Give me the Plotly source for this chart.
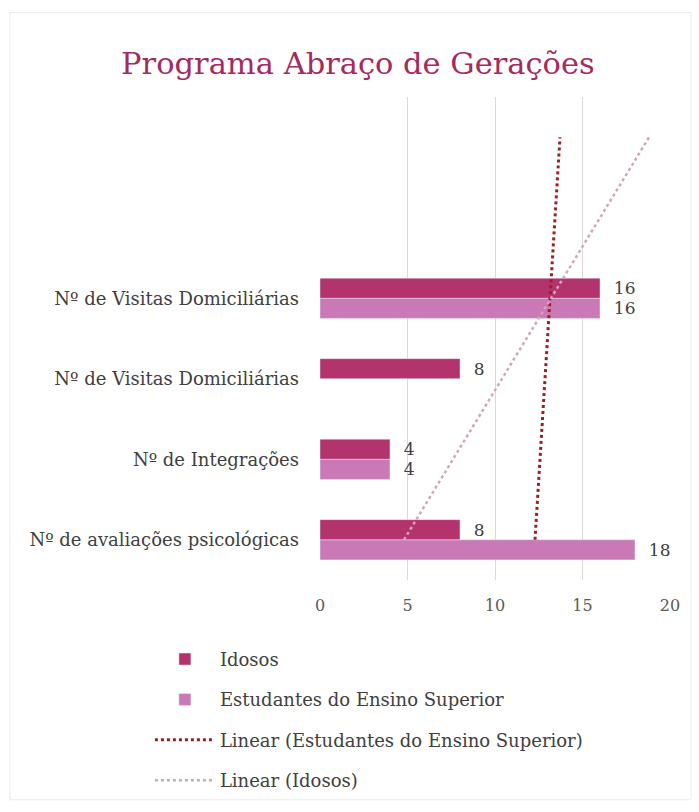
import numpy as np
import plotly.graph_objects as go

# ---- data ----
categories = ["Nº de avaliações psicológicas", "Nº de Integrações",
              "Nº de Visitas Domiciliárias", "Nº de Visitas Domiciliárias"]
cat_pos = [1, 2, 3, 4]  # bottom to top
idosos = [8, 4, 8, 16]
estudantes = [18, 4, None, 16]
x_ticks = [0, 5, 10, 15, 20]
forecast_forward = 2

FONT = "DejaVu Serif"
C_IDOSOS = "#B3336C"
C_EST = "#C979B6"
C_LIN_EST = "#9E1F22"
C_LIN_ID = "#D9A3B6"

def trend(xs, vals):
    pts = [(x, v) for x, v in zip(xs, vals) if v is not None]
    px_ = np.array([p[0] for p in pts], dtype=float)
    pv = np.array([p[1] for p in pts], dtype=float)
    slope, inter = np.polyfit(px_, pv, 1)
    ys = [min(xs), max(xs) + forecast_forward]
    return [slope * y + inter for y in ys], ys

fig = go.Figure()
nb = "\u00a0\u00a0"
fig.add_trace(go.Bar(
    y=cat_pos, x=estudantes, orientation="h", name="Estudantes do Ensino Superior",
    marker=dict(color=C_EST), legendrank=2, legendgroup="b",
    text=[None if v is None else nb + str(v) for v in estudantes],
    textposition="outside", cliponaxis=False,
    textfont=dict(family=FONT, size=17, color="#404040"),
))
fig.add_trace(go.Bar(
    y=cat_pos, x=idosos, orientation="h", name="Idosos",
    marker=dict(color=C_IDOSOS), legendrank=1, legendgroup="a",
    text=[nb + str(v) for v in idosos],
    textposition="outside", cliponaxis=False,
    textfont=dict(family=FONT, size=17, color="#404040"),
))
tx, ty = trend(cat_pos, estudantes)
fig.add_trace(go.Scatter(
    x=tx, y=ty, mode="lines", name="Linear (Estudantes do Ensino Superior)",
    line=dict(color=C_LIN_EST, width=3, dash="dot"), legendrank=3, legendgroup="c",
))
tx2, ty2 = trend(cat_pos, idosos)
fig.add_trace(go.Scatter(
    x=tx2, y=ty2, mode="lines", name="Linear (Idosos)",
    line=dict(color=C_LIN_ID, width=2.5, dash="dot"), legendrank=4, legendgroup="d",
))

fig.update_layout(
    width=699, height=812,
    paper_bgcolor="white", plot_bgcolor="white",
    margin=dict(l=320, r=29, t=97, b=232, autoexpand=False),
    barmode="group", bargap=0.5, bargroupgap=0,
    font=dict(family=FONT, size=16, color="#404040"),
    title=dict(text="Programa Abraço de Gerações", x=0.512, xanchor="center",
               y=0.922, yanchor="middle",
               font=dict(family=FONT, size=30.5, color="#A32B60")),
    legend=dict(x=-0.486, xanchor="left", y=-0.126, yanchor="top",
                orientation="v", traceorder="grouped", tracegroupgap=14,
                font=dict(family=FONT, size=18, color="#404040"),
                itemwidth=60, bgcolor="rgba(0,0,0,0)"),
    showlegend=True,
)
fig.update_xaxes(range=[0, 20], tickvals=x_ticks, showgrid=True, gridcolor="#D9D9D9",
                 gridwidth=1, zeroline=False, showline=False,
                 tickfont=dict(family=FONT, size=16, color="#595959"),
                 ticklabelstandoff=14)
fig.update_yaxes(range=[0.5, 6.5], tickvals=cat_pos, ticktext=categories,
                 showgrid=False, zeroline=False, showline=False,
                 tickfont=dict(family=FONT, size=18, color="#404040"),
                 ticklabelstandoff=20)
fig.add_shape(type="rect", xref="paper", yref="paper",
              x0=-0.886, x1=1.06, y0=-0.455, y1=1.175,
              line=dict(color="#EBEBEB", width=1), layer="below")

fig.write_html("out.html", config={"displayModeBar": False},
               post_script="document.body.style.margin='0px';")
